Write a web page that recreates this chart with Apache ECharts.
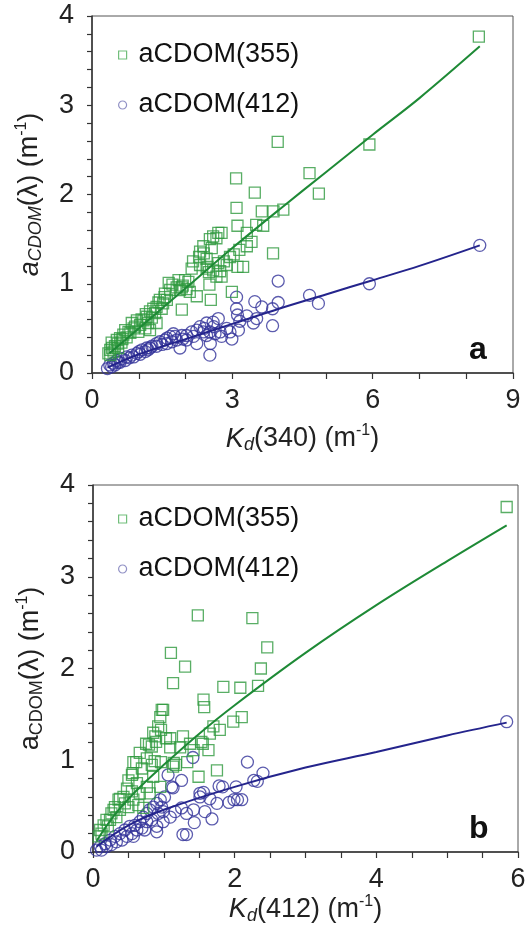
<!DOCTYPE html>
<html>
<head>
<meta charset="utf-8">
<script src="https://cdn.jsdelivr.net/npm/echarts@6/dist/echarts.min.js"></script>
<style>
  html, body { margin: 0; padding: 0; background: #fff; }
  #chart { width: 532px; height: 928px; }
</style>
</head>
<body>
<div id="chart"></div>
<script>
// Panel (a): aCDOM vs Kd(340)
const panelA355 = [
  [8.27,3.77],[3.97,2.59],[5.93,2.56],[3.08,2.18],[3.48,2.02],[4.65,2.24],[4.85,2.01],
  [3.09,1.85],[3.63,1.81],[3.88,1.81],[4.09,1.83],[3.11,1.65],[3.51,1.66],[3.66,1.65],[3.31,1.57],
  [3.41,1.47],[3.31,1.42],[3.15,1.38],[3.87,1.34],[2.95,1.30],[3.03,1.33],[3.11,1.19],[3.23,1.19],
  [2.99,0.91],[2.54,0.82],[2.24,0.86],[1.92,0.71],
  [2.70,1.57],[2.59,1.53],[2.52,1.50],[2.56,1.40],[2.39,1.34],[2.29,1.30],[2.16,1.25],[2.13,1.17],
  [2.31,1.21],[2.45,1.17],[2.59,1.15],[2.74,1.14],[2.66,1.08],[2.51,0.99],[2.77,1.08],[2.88,1.21],
  [2.82,1.25],[2.70,1.23],[2.45,1.28],[2.38,1.42],[2.31,1.36],[2.47,1.19],[2.50,1.13],[2.77,1.57],[2.66,1.51],
  [1.72,0.99],[1.85,1.04],[1.99,1.04],[2.06,1.02],[1.92,0.96],[2.02,0.94],[2.09,0.91],[1.88,0.93],
  [1.81,0.96],[1.67,0.93],[1.56,0.89],[1.64,1.01],[1.94,0.98],[1.60,0.82],[1.52,0.78],[1.45,0.82],
  [1.38,0.74],[1.49,0.72],[1.35,0.67],[1.24,0.69],[1.17,0.63],[1.28,0.62],[1.38,0.56],[1.20,0.56],
  [1.10,0.59],[1.03,0.54],[0.96,0.59],[1.14,0.50],[1.24,0.48],[0.99,0.46],[0.89,0.50],[0.85,0.56],
  [0.78,0.46],[0.71,0.48],[0.67,0.43],[0.60,0.39],[0.53,0.37],[0.49,0.30],[0.42,0.34],[0.39,0.26],
  [0.35,0.22],[0.56,0.28],[0.63,0.34],[0.46,0.24],[0.39,0.20],[0.43,0.28],
  [0.74,0.40],[0.82,0.45],[0.92,0.52],[1.06,0.60],[1.15,0.66],[1.31,0.72],[1.42,0.79],[1.55,0.85],
  [0.55,0.33],[0.65,0.38]
];
const panelA412 = [
  [8.29,1.43],[5.93,1.00],[4.65,0.87],[4.84,0.78],[3.98,1.03],[3.98,0.79],[3.86,0.72],[3.86,0.53],
  [3.48,0.80],[3.63,0.74],[3.09,0.85],[3.09,0.72],[3.11,0.65],[3.31,0.64],[3.52,0.61],[3.45,0.56],
  [3.16,0.58],[3.13,0.48],[2.99,0.38],[2.52,0.20],[2.53,0.33],[2.24,0.33],[1.88,0.28],[2.77,0.41],
  [2.95,0.46],[2.74,0.46],[2.88,0.50],
  [2.31,0.52],[2.45,0.56],[2.59,0.57],[2.70,0.61],[2.38,0.46],[2.24,0.48],[2.52,0.46],[2.13,0.46],
  [2.17,0.41],[2.63,0.44],[2.45,0.42],[2.02,0.42],[2.40,0.50],[2.60,0.52],
  [1.92,0.42],[1.77,0.41],[1.67,0.41],[1.56,0.37],[1.45,0.35],[1.38,0.33],[1.28,0.30],[1.17,0.28],
  [1.07,0.26],[0.96,0.22],[0.85,0.20],[0.74,0.18],[0.63,0.16],[0.53,0.14],[0.46,0.11],[0.38,0.09],
  [0.33,0.05],[0.49,0.09],[0.60,0.12],[0.71,0.14],[0.89,0.18],[1.03,0.21],[1.14,0.24],[1.24,0.28],
  [1.38,0.30],[1.60,0.33],[1.71,0.35],[1.81,0.37],[1.94,0.38],[2.02,0.37],[1.74,0.44],[1.60,0.39],
  [0.42,0.07],[0.56,0.12],[0.80,0.17],[1.00,0.24],[1.20,0.26],[1.50,0.32]
];
const fitA355X = [0.37, 1, 2, 3, 4, 5, 6, 7, 8.29];
const fitA355Y = [0.22, 0.50, 0.95, 1.40, 1.83, 2.25, 2.67, 3.08, 3.66];
const fitA412X = [0.33, 1, 2, 3, 4, 5, 6, 7, 8.29];
const fitA412Y = [0.06, 0.21, 0.38, 0.55, 0.72, 0.88, 1.04, 1.20, 1.43];

// Panel (b): aCDOM vs Kd(412)
const panelB355 = [
  [5.84,3.76],[1.48,2.58],[2.25,2.55],[2.46,2.23],[1.10,2.17],[1.30,2.02],[2.37,2.00],[1.13,1.84],
  [1.84,1.80],[2.08,1.79],[2.33,1.81],[1.56,1.66],[1.57,1.58],[2.10,1.47],[1.98,1.42],[1.70,1.37],
  [1.79,1.33],[1.65,1.29],[1.53,1.20],[1.55,1.18],[1.63,1.11],[1.75,0.89],[1.49,0.82],[1.27,1.26],
  [1.37,1.18],[1.42,1.11],[1.33,0.98],[1.14,0.97],[1.09,1.24],[1.09,1.14],[1.23,1.14],
  [0.99,1.55],[0.95,1.47],[0.92,1.37],[0.88,1.26],[0.89,1.20],[0.96,1.33],[1.03,1.24],[0.83,1.15],
  [0.79,1.17],[0.66,1.08],[0.76,1.02],[0.83,0.95],[0.57,0.98],[0.69,0.91],[0.55,0.84],[0.50,0.78],
  [0.62,0.75],[0.48,0.69],[0.55,0.66],[0.66,0.64],[0.76,0.71],[0.80,0.64],[0.43,0.60],[0.36,0.57],
  [0.31,0.49],[0.26,0.42],[0.19,0.35],[0.15,0.29],[0.10,0.24],[0.08,0.17],[0.45,0.53],[0.38,0.46],
  [0.33,0.38],[0.50,0.49],[0.57,0.57],[0.64,0.51],[0.71,0.48],[0.24,0.35],[0.29,0.46],
  [0.97,1.55],[0.85,1.30],[0.75,1.18],[0.61,0.98],[0.56,0.86],[0.38,0.58],
  [0.87,0.99],[0.96,0.98],[1.17,0.95],[0.85,0.82],[0.95,0.71],[1.13,0.93],[0.12,0.20],[0.21,0.28]
];
const panelB412 = [
  [5.84,1.42],[2.18,0.98],[2.40,0.86],[2.27,0.78],[2.32,0.77],[2.02,0.71],[2.04,0.57],[1.92,0.54],
  [1.78,0.72],[1.75,0.53],[1.65,0.58],[1.51,0.64],[1.51,0.60],[1.58,0.44],[1.68,0.36],[1.43,0.32],
  [1.27,0.19],[1.25,0.78],[1.11,0.71],[1.06,0.84],[1.41,1.03],
  [1.42,0.46],[1.32,0.42],[1.25,0.48],[1.16,0.44],[1.09,0.38],[0.99,0.44],[0.99,0.33],[0.90,0.28],
  [0.90,0.22],[0.83,0.35],[0.76,0.33],[0.73,0.24],
  [0.95,0.57],[0.90,0.53],[0.85,0.49],[0.80,0.46],[0.97,0.49],[0.92,0.42],[0.76,0.42],[0.71,0.38],
  [0.66,0.33],[0.59,0.29],[0.52,0.28],[0.45,0.24],[0.38,0.20],[0.31,0.17],[0.24,0.13],[0.17,0.09],
  [0.10,0.06],[0.05,0.02],[0.62,0.24],[0.55,0.20],[0.48,0.17],[0.41,0.13],[0.33,0.11],[0.26,0.08],
  [0.19,0.06],[0.12,0.02],[0.69,0.26],[0.57,0.17],
  [1.83,0.71],[1.99,0.57],[2.10,0.57],[1.56,0.65],[1.01,0.60],[1.13,0.70],[1.32,0.19]
];
const fitB355X = [0.05, 0.3, 0.6, 1, 1.5, 2, 3, 4, 5, 5.84];
const fitB355Y = [0.12, 0.40, 0.66, 0.95, 1.29, 1.60, 2.17, 2.69, 3.17, 3.56];
const fitB412X = [0.05, 0.5, 1, 2, 3, 4, 5, 5.84];
const fitB412Y = [0.06, 0.29, 0.46, 0.71, 0.92, 1.09, 1.27, 1.41];

const NAME_355 = 'aCDOM(355)';
const NAME_412 = 'aCDOM(412)';

const GREEN = '#2f9a3e';
const GREEN_LINE = '#1e8a36';
const BLUE = '#33339a';
const BLUE_LINE = '#24248c';
const FONT = 'Liberation Sans, Arial, sans-serif';
const AXIS_COLOR = '#333';

const pairs = (xs, ys) => xs.map((x, i) => [x, ys[i]]);

const richStyles = {
  n:   { fontSize: 27, fontFamily: FONT, color: '#222' },
  it:  { fontSize: 27, fontFamily: FONT, color: '#222', fontStyle: 'italic' },
  si:  { fontSize: 18, fontFamily: FONT, color: '#222', fontStyle: 'italic', padding: [12, 0, 0, 0] },
  sn:  { fontSize: 18, fontFamily: FONT, color: '#222', padding: [12, 0, 0, 0] },
  sup: { fontSize: 16, fontFamily: FONT, color: '#222', padding: [0, 0, 16, 0] }
};

function xAxisFor(gridIndex, max, interval, minorSplit, name, nameGap) {
  return {
    gridIndex, type: 'value', min: 0, max, interval,
    name, nameLocation: 'middle', nameGap,
    nameTextStyle: { rich: richStyles },
    axisLine: { show: true, onZero: false, lineStyle: { color: AXIS_COLOR, width: 1.5 } },
    axisTick: { show: true, length: 6, lineStyle: { color: AXIS_COLOR, width: 1.2 } },
    minorTick: { show: true, splitNumber: minorSplit, length: 6, lineStyle: { color: AXIS_COLOR, width: 1.2 } },
    axisLabel: { fontSize: 27, fontFamily: FONT, color: '#222', margin: 14 },
    splitLine: { show: false }
  };
}
function yAxisFor(gridIndex, name, nameGap) {
  return {
    gridIndex, type: 'value', min: 0, max: 4, interval: 1,
    name, nameLocation: 'middle', nameGap,
    nameTextStyle: { rich: richStyles },
    axisLine: { show: true, onZero: false, lineStyle: { color: AXIS_COLOR, width: 1.5 } },
    axisTick: { show: true, length: 5, lineStyle: { color: AXIS_COLOR, width: 1.2 } },
    minorTick: { show: true, splitNumber: 5, length: 5, lineStyle: { color: AXIS_COLOR, width: 1.2 } },
    axisLabel: { fontSize: 27, fontFamily: FONT, color: '#222', margin: 18 },
    splitLine: { show: false }
  };
}

function scatter(name, data, gi, symbol, color, size) {
  return {
    name, type: 'scatter', xAxisIndex: gi, yAxisIndex: gi, data,
    symbol, symbolSize: size,
    itemStyle: { color: 'transparent', borderColor: color, borderWidth: 1.3 },
    emphasis: { disabled: true }, z: 3
  };
}
function fitLine(name, data, gi, color) {
  return {
    name, type: 'line', xAxisIndex: gi, yAxisIndex: gi, data,
    showSymbol: false, smooth: 0.35,
    lineStyle: { color, width: 2 }, z: 4, silent: true
  };
}

function legendFor(top) {
  return {
    orient: 'vertical', left: 113, top, itemWidth: 8, itemHeight: 8, itemGap: 20,
    textStyle: { fontSize: 27, fontFamily: FONT, color: '#111', lineHeight: 30, padding: [0, 0, 0, 7] },
    selectedMode: false,
    data: [
      { name: NAME_355, icon: 'rect', itemStyle: { color: 'transparent', borderColor: '#4fae5a', borderWidth: 1.2 } },
      { name: NAME_412, icon: 'circle', itemStyle: { color: 'transparent', borderColor: '#7676b6', borderWidth: 1.2 } }
    ]
  };
}

const chart = echarts.init(document.getElementById('chart'), null, { renderer: 'canvas' });
chart.setOption({
  animation: false,
  backgroundColor: '#fff',
  grid: [
    { left: 92, top: 16, width: 421, height: 357, show: true, borderColor: '#555', borderWidth: 1, backgroundColor: 'transparent' },
    { left: 93, top: 485, width: 425, height: 367, show: true, borderColor: '#555', borderWidth: 1, backgroundColor: 'transparent' }
  ],
  xAxis: [
    xAxisFor(0, 9, 3, 3, '{it|K}{si|d}{n|(340) (m}{sup|-1}{n|)}', 50),
    xAxisFor(1, 6, 2, 4, '{it|K}{si|d}{n|(412) (m}{sup|-1}{n|)}', 40)
  ],
  yAxis: [
    yAxisFor(0, '{it|a}{si|CDOM}{n|(λ) (m}{sup|-1}{n|)}', 46),
    yAxisFor(1, '{n|a}{sn|CDOM}{n|(λ) (m}{sup|-1}{n|)}', 46)
  ],
  legend: [legendFor(35), legendFor(499)],
  graphic: [
    { type: 'text', left: 469, top: 334, style: { text: 'a', font: 'bold 32px ' + FONT, fill: '#111' } },
    { type: 'text', left: 469, top: 813, style: { text: 'b', font: 'bold 32px ' + FONT, fill: '#111' } }
  ],
  series: [
    scatter(NAME_412, panelA412, 0, 'circle', BLUE, 12),
    scatter(NAME_355, panelA355, 0, 'rect', GREEN, 11),
    fitLine('fitA412', pairs(fitA412X, fitA412Y), 0, BLUE_LINE),
    fitLine('fitA355', pairs(fitA355X, fitA355Y), 0, GREEN_LINE),
    scatter(NAME_412, panelB412, 1, 'circle', BLUE, 12),
    scatter(NAME_355, panelB355, 1, 'rect', GREEN, 11),
    fitLine('fitB412', pairs(fitB412X, fitB412Y), 1, BLUE_LINE),
    fitLine('fitB355', pairs(fitB355X, fitB355Y), 1, GREEN_LINE)
  ]
});
</script>
</body>
</html>
